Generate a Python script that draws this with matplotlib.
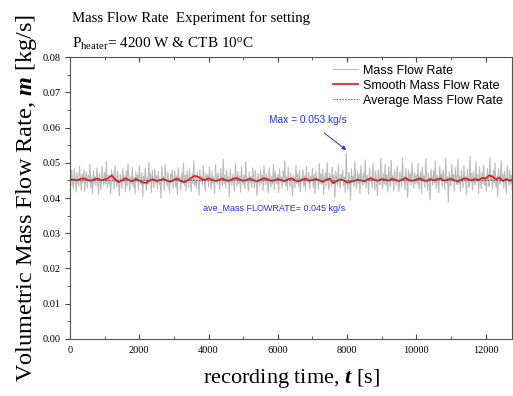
import numpy as np
import matplotlib
matplotlib.use("Agg")
import matplotlib.pyplot as plt
from matplotlib.ticker import MultipleLocator

plt.rcParams['mathtext.fontset'] = 'custom'
plt.rcParams['mathtext.rm'] = 'Liberation Serif'
plt.rcParams['mathtext.it'] = 'Liberation Serif:italic'
plt.rcParams['mathtext.bf'] = 'Liberation Serif:bold:italic'

# raw mass flow rate, one reading every 25 s (g/s, converted below)
raw_gs = [
    46.2, 43.8, 47.9, 44.1, 42.6, 48.3, 45.0, 41.7, 47.2, 44.9, 43.3, 49.0, 45.6, 42.2, 46.8, 44.4, 48.1, 41.9, 45.3, 47.5,
    43.0, 46.4, 44.7, 49.6, 42.8, 45.9, 41.4, 47.7, 44.2, 46.1, 43.5, 48.6, 45.1, 40.9, 47.0, 44.6, 42.4, 48.9, 45.8, 43.6,
    47.3, 44.0, 50.4, 42.9, 46.5, 43.9, 45.4, 41.2, 48.0, 44.8, 46.9, 42.5, 49.3, 45.2, 43.1, 47.6, 44.3, 40.6, 46.7, 45.7,
    42.7, 48.4, 44.5, 46.3, 41.8, 47.8, 43.4, 49.7, 45.5, 42.0, 46.0, 44.1, 48.7, 43.2, 45.9, 41.1, 47.4, 44.7, 46.6, 42.3,
    49.1, 45.3, 43.7, 47.1, 40.3, 46.2, 44.9, 48.5, 42.1, 45.8, 43.8, 50.1, 44.4, 46.9, 41.6, 47.9, 45.0, 42.9, 48.2, 44.2,
    46.4, 42.6, 47.5, 43.9, 45.6, 39.9, 48.8, 44.6, 46.1, 42.2, 49.4, 45.1, 43.3, 47.3, 44.0, 41.5, 46.7, 45.4, 48.0, 42.8,
    45.2, 47.7, 43.1, 46.3, 41.0, 48.6, 44.8, 45.9, 42.4, 47.1, 44.3, 49.9, 43.6, 46.5, 42.0, 47.8, 45.7, 43.0, 48.3, 44.5,
    41.8, 46.8, 44.1, 50.6, 43.4, 45.5, 42.7, 47.4, 45.0, 40.8, 48.1, 44.6, 46.2, 43.7, 49.2, 45.3, 42.1, 47.0, 44.9, 46.6,
    43.2, 48.7, 45.1, 42.5, 47.6, 44.2, 46.0, 41.3, 49.5, 45.8, 43.9, 47.2, 44.7, 42.3, 48.4, 45.6, 43.5, 51.0, 44.0, 46.4,
    42.9, 47.9, 44.4, 45.9, 40.4, 48.2, 45.2, 43.6, 46.8, 44.8, 42.0, 49.8, 45.5, 43.3, 47.5, 44.1, 46.3, 41.7, 48.9, 45.0,
    43.8, 46.6, 42.6, 50.2, 44.6, 45.7, 41.9, 47.3, 44.3, 46.1, 43.0, 48.5, 45.4, 42.8, 47.8, 44.9, 40.7, 46.9, 45.1, 43.4,
    48.0, 44.2, 46.5, 42.1, 49.1, 45.3, 43.7, 47.0, 44.5, 41.4, 48.6, 45.8, 43.1, 46.2, 44.0, 49.6, 42.4, 47.5, 45.6, 43.9,
    46.7, 41.6, 48.3, 44.7, 45.9, 42.7, 47.7, 44.4, 50.5, 43.5, 46.0, 42.2, 48.8, 45.0, 43.2, 47.1, 44.6, 40.5, 46.4, 45.5,
    42.9, 49.3, 44.1, 46.8, 43.6, 47.9, 41.8, 45.7, 44.8, 48.1, 43.3, 46.3, 42.0, 49.0, 45.2, 44.3, 47.4, 42.6, 46.1, 45.0,
    48.4, 43.0, 46.6, 41.2, 47.6, 44.9, 45.4, 42.5, 49.7, 44.0, 46.9, 43.8, 48.2, 41.0, 45.8, 47.2, 43.4, 50.0, 44.6, 42.3,
    47.0, 45.3, 43.1, 48.7, 44.2, 46.5, 40.2, 47.5, 45.6, 43.7, 49.4, 44.4, 42.8, 46.7, 45.1, 47.9, 43.5, 46.0, 41.5, 52.7,
    44.8, 42.4, 47.3, 45.9, 39.4, 48.3, 44.5, 46.2, 43.2, 50.3, 45.0, 42.7, 47.7, 44.1, 46.8, 41.3, 49.2, 45.7, 43.6, 47.1,
    44.3, 50.8, 42.9, 46.4, 45.2, 41.1, 48.5, 44.7, 46.0, 43.0, 49.8, 45.5, 42.2, 47.6, 44.9, 40.6, 48.0, 45.3, 43.8, 51.2,
    45.4, 42.5, 47.0, 44.0, 49.5, 43.4, 46.6, 41.7, 48.9, 45.8, 43.1, 50.7, 44.6, 46.3, 42.0, 47.9, 45.1, 43.7, 49.1, 44.2,
    41.9, 47.4, 45.6, 43.3, 51.5, 44.8, 46.1, 42.3, 48.4, 45.0, 40.1, 47.8, 44.4, 46.9, 43.5, 50.0, 45.7, 42.8, 47.2, 44.1,
    46.5, 43.9, 49.9, 42.6, 45.3, 47.5, 41.4, 48.7, 44.5, 46.2, 43.0, 51.1, 45.4, 42.1, 47.1, 44.7, 39.5, 48.2, 45.9, 43.6,
    47.7, 44.3, 50.4, 42.7, 46.4, 45.1, 41.6, 49.0, 44.9, 46.8, 43.2, 48.0, 45.6, 42.4, 51.3, 44.2, 46.0, 38.9, 47.4, 45.0,
    43.4, 49.6, 44.6, 46.7, 42.0, 48.6, 45.2, 43.8, 50.9, 44.0, 46.3, 41.8, 47.9, 45.5, 42.9, 49.3, 44.8, 46.1, 40.9, 48.1,
    45.3, 43.1, 51.8, 44.4, 46.9, 42.2, 47.6, 45.0, 43.7, 50.2, 44.6, 46.5, 41.3, 48.8, 45.7, 42.6, 47.3, 44.1, 49.4, 43.5,
    46.0, 41.9, 48.4, 45.4, 43.3, 51.6, 44.9, 46.6, 42.5, 47.8, 44.3, 49.9, 43.0, 46.2, 40.4, 48.5, 45.1, 43.9, 50.6, 44.7,
    46.8, 42.8, 47.5, 44.5, 41.2, 49.2, 45.8, 43.6, 48.0, 44.0, 46.4, 42.3, 50.8, 45.2, 43.4, 47.7, 44.8, 46.1, 42.0, 49.1,
]
# smoothed curve, every 100 s
smooth_gs = [
    45.3, 45.2, 45.0, 45.4, 45.6, 45.1, 44.9, 45.3, 45.5, 45.0,
    45.2, 45.6, 46.4, 45.3, 44.5, 45.0, 45.6, 45.1, 44.7, 45.4,
    44.9, 44.4, 44.3, 45.0, 45.3, 44.8, 45.1, 45.4, 44.9, 44.6,
    45.2, 45.5, 44.8, 44.5, 45.0, 45.7, 46.3, 46.0, 45.4, 45.1,
    45.6, 45.2, 44.8, 45.1, 45.5, 45.0, 44.9, 45.4, 45.7, 45.2,
    44.9, 45.1, 45.5, 45.0, 44.7, 45.2, 45.6, 45.3, 44.9, 45.0,
    45.4, 45.1, 44.8, 45.3, 45.6, 45.0, 44.7, 45.2, 45.5, 44.9,
    45.1, 45.4, 45.0, 44.6, 45.2, 45.5, 44.2, 44.8, 45.3, 45.0,
    44.4, 44.6, 44.8, 45.2, 45.0, 44.7, 45.3, 45.6, 45.1, 44.9,
    45.4, 45.2, 44.9, 45.5, 45.1, 44.8, 45.3, 45.7, 45.0, 44.9,
    45.2, 45.6, 45.1, 44.8, 45.4, 45.0, 45.3, 45.6, 44.9, 45.2,
    45.5, 45.0, 44.7, 45.2, 45.6, 45.3, 45.0, 45.4, 45.1, 45.7,
    45.5, 46.4, 46.1, 45.3, 45.8, 44.8, 45.4, 44.9, 45.3,
]
avg_flow = 0.045
max_flow = 0.053
max_time = 7980

raw_flow = np.array(raw_gs) / 1000
smooth_flow = np.array(smooth_gs) / 1000
t_raw = np.arange(len(raw_flow)) * 25
t_smooth = np.arange(len(smooth_flow)) * 100

fig = plt.figure(figsize=(5.13, 3.96), dpi=100)
ax = fig.add_axes([0.1365, 0.144, 0.862, 0.712])

ax.plot(t_raw, raw_flow, color='#bbbbbb', lw=0.8, label='Mass Flow Rate')
ax.plot(t_smooth, smooth_flow, color='#ee1111', lw=1.2, label='Smooth Mass Flow Rate')
ax.plot([0, 12800], [avg_flow, avg_flow], color='#555555', lw=0.6, ls=(0, (2, 1.5)),
        label='Average Mass Flow Rate')

ax.set_xlim(0, 12770)
ax.set_ylim(0, 0.08)
ax.xaxis.set_major_locator(MultipleLocator(2000))
ax.xaxis.set_minor_locator(MultipleLocator(1000))
ax.yaxis.set_major_locator(MultipleLocator(0.01))
ax.yaxis.set_minor_locator(MultipleLocator(0.005))
ax.yaxis.set_major_formatter(plt.FuncFormatter(lambda v, p: f"{v:.2f}"))
ax.tick_params(axis='x', which='both', direction='in', top=True, labelsize=7.5, color='#444444')
ax.tick_params(axis='y', which='both', direction='out', right=True, labelsize=7.5, color='#444444')
ax.tick_params(which='major', length=3.5, width=0.8)
ax.tick_params(which='minor', length=2, width=0.6)
ax.tick_params(axis='x', which='major', pad=5)
for lab in ax.get_xticklabels() + ax.get_yticklabels():
    lab.set_fontfamily('Liberation Serif')
for s in ax.spines.values():
    s.set_color('#555555')
    s.set_linewidth(0.8)

ax.set_xlabel(r'recording time, $\mathbf{t}$ [s]', fontsize=16, family='Liberation Serif', labelpad=9)
ax.set_ylabel(r'Volumetric Mass Flow Rate, $\mathbf{m}$ [kg/s]', fontsize=17.5,
              family='Liberation Serif', labelpad=2)

ax.legend(loc='upper right', frameon=False, prop={'family': 'Liberation Sans', 'size': 9},
          handlelength=2.0, handletextpad=0.4, labelspacing=0.25, borderaxespad=0.2,
          bbox_to_anchor=(0.995, 1.0))

ax.annotate('Max = 0.053 kg/s', xy=(max_time, max_flow + 0.0006), xytext=(5740, 0.0621),
            fontsize=7.3, family='Liberation Sans', color='#2233ee', va='center',
            arrowprops=dict(arrowstyle='-|>', color='#2233ee', lw=0.7, mutation_scale=6,
                            shrinkA=6, shrinkB=0))
ax.text(3850, 0.0364, 'ave_Mass FLOWRATE= 0.045 kg/s', fontsize=6.5,
        family='Liberation Sans', color='#2233ee')

fig.text(0.14, 0.955, 'Mass Flow Rate  Experiment for setting', fontsize=10.7,
         family='Liberation Serif', va='center')
fig.text(0.14, 0.89, r'P$_{\rm heater}$= 4200 W & CTB 10$^{\rm o}$C', fontsize=11,
         family='Liberation Serif', va='center')

fig.savefig('out.png', dpi=100)
